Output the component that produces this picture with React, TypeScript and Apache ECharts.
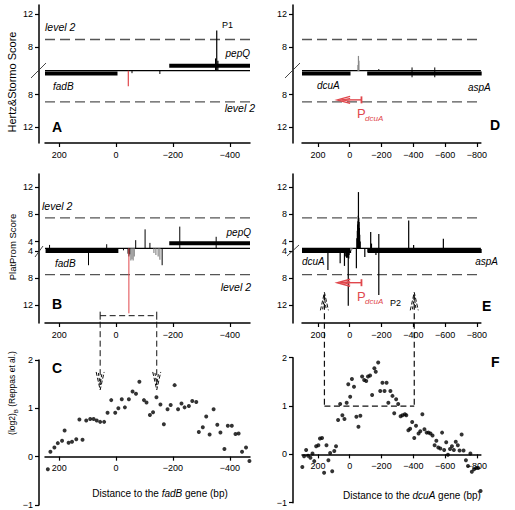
import React, { useEffect, useRef } from 'react';
import * as echarts from 'echarts';

const FONT = '"Liberation Sans", Arial, Helvetica, sans-serif';
const RED = '#e0474c';
const GRAY = '#8a8a8a';

// ---------- axis ticks ----------
const xTicksFadB = [200, 0, -200, -400];
const xTicksDcuA = [200, 0, -200, -400, -600, -800];
const hsTicks = [12, 8];
const ppTicks = [12, 8, 4];
const logTicks = [-1, 0, 1, 2];

// score baselines (break of the axis) and level-2 thresholds
const HS_BASE = 5.1;
const PP_BASE_UP = 3.0;
const PP_BASE_DOWN = 3.6;
const hsLevel2 = 8.9;
const ppLevel2 = 7.5;

// ---------- Panel A (Hertz & Stormo, fadB region) ----------
const aUp = [[-354, 10.0], [-350, 6.6], [-358, 6.3]];
const aDown = [[-56, 5.4], [-154, 5.5]];
const aDownRed = [[-43, 7.0]];
const aGenesDown = [[250, -5]]; // fadB
const aGenesUp = [[-187, -471]]; // pepQ

// ---------- Panel D (Hertz & Stormo, dcuA region) ----------
const dUpGray = [[-55, 6.9], [-58, 6.3], [-52, 5.8]];
const dUp = [[-183, 5.3], [-392, 5.5], [-535, 5.5]];
const dDown = [[-392, 5.9], [-535, 5.9]];
const dGenesDown = [[300, -5], [-110, -830]]; // dcuA, aspA
const dPromoter = [[-74, 79]];

// ---------- Panel B (PlatProm, fadB region) ----------
const bUp = [[234, 3.5], [33, 3.6], [-69, 4.2], [-102, 5.8], [-119, 3.8], [-224, 6.2], [-352, 4.7]];
const bDown = [[97, 6.1], [-26, 3.9], [-42, 4.4], [-45, 4.8], [-48, 4.5], [-162, 6.1]];
const bDownGray = [[-52, 5.4], [-56, 5.2], [-60, 5.4], [-64, 4.8], [-133, 4.3], [-140, 4.6], [-148, 4.8], [-154, 5.3]];
const bDownRed = [[-45, 13.2]];
const bGenesDown = [[248, -8]];
const bGenesUp = [[-187, -471]];

// ---------- Panel E (PlatProm, dcuA region) ----------
const eUp = [[-45, 4.5], [-48, 5.6], [-50, 6.5], [-52, 7.0], [-54, 7.8], [-55, 11.3], [-57, 7.5], [-59, 6.9], [-61, 6.0], [-63, 5.0], [-66, 4.0], [-132, 5.4], [-137, 3.7], [-183, 5.1], [-371, 7.1], [-402, 3.5], [-589, 4.4]];
const eDown = [[137, 6.8], [60, 5.8], [33, 6.2], [28, 4.8], [20, 5.0], [15, 5.0], [12, 4.9], [9, 12.1], [6, 5.1], [4, 4.6], [-42, 6.55], [-95, 4.9], [-115, 4.2], [-165, 4.6], [-183, 10.5]];
const eDownGray = [[-5, 3.9], [-10, 4.0], [-15, 3.8]];
const eGenesDown = [[300, -9], [-113, -830]];
const ePromoter = [[-74, 79]];

// ---------- Panel C (fadB, log2 ratio) ----------
const cDist = [240, 231, 217, 205, 190, 181, 167, 155, 140, 129, 118, 105, 91, 79, 68, 56, 42, 30, 17, 3, -8, -20, -31, -45, -58, -70, -82, -98, -107, -119, -130, -142, -156, -168, -181, -192, -206, -218, -230, -241, -256, -268, -282, -291, -305, -317, -329, -343, -356, -367, -381, -393, -407, -420, -431, -443, -457, -469];
const cVal = [-0.26, 0.10, 0.19, 0.28, 0.33, 0.54, 0.29, 0.31, 0.36, 0.77, 0.35, 0.75, 0.78, 0.78, 0.75, 0.72, 0.72, 0.91, 1.17, 0.91, 1.0, 1.19, 1.02, 1.19, 1.35, 1.30, 1.55, 1.17, 1.12, 0.86, 0.92, 1.23, 1.08, 0.67, 0.98, 1.07, 1.48, 0.98, 1.10, 1.02, 1.05, 1.15, 1.13, 0.51, 0.61, 0.83, 0.46, 0.98, 0.66, 0.50, 0.16, 0.64, 0.64, 0.47, 0.48, 0.10, 0.19, -0.09];

// ---------- Panel F (dcuA, log2 ratio) ----------
const fDist = [298, 287, 274, 262, 247, 234, 223, 211, 197, 187, 174, 161, 146, 134, 123, 110, 97, 86, 73, 60, 46, 33, 19, 9, -3, -14, -27, -42, -55, -67, -78, -91, -104, -115, -128, -141, -155, -164, -179, -192, -206, -219, -232, -243, -256, -269, -280, -292, -305, -320, -332, -347, -356, -369, -380, -393, -406, -417, -433, -444, -457, -470, -484, -496, -508, -521, -534, -545, -557, -570, -581, -594, -607, -618, -631, -643, -655, -667, -680, -691, -704, -716, -731, -744, -759, -768, -782, -795, -808, -823];
const fVal = [-0.26, -0.04, 0.09, -0.03, -0.07, 0.02, -0.14, 0.17, 0.19, 0.33, 0.34, -0.38, 0.19, -0.12, 0.03, -0.35, 0.07, 0.17, 0.71, 1.04, 0.81, 0.73, 1.07, 1.45, 1.19, 1.56, 1.40, 0.78, 0.57, 0.80, 1.61, 1.54, 1.52, 1.61, 1.63, 1.23, 1.78, 1.71, 1.90, 1.31, 1.48, 1.31, 1.48, 1.07, 1.31, 1.21, 0.85, 1.14, 1.04, 0.79, 0.81, 0.83, 0.81, 0.50, 0.53, 0.67, 0.34, 0.59, 0.43, 0.48, 0.83, 0.52, 0.45, 0.45, 0.43, 0.39, 0.19, 0.28, 0.14, 0.12, 0.45, 0.09, 0.25, -0.01, 0.11, 0.17, 0.09, 0.26, 0.19, 0.08, 0.41, 0.08, -0.12, -0.24, 0.02, -0.36, -0.31, -0.28, -0.28, -0.76];

// ---------- connectors between panels ----------
const fadBWindow = [56, -143];
const dcuAWindow = [159, -406];
const bracketScore = 13.55; // lower strand, panel B
const cArrowTip = 1.38;
const eArrowTip = 10.1; // lower strand, panel E
const fBoxLevel = 1.0;

// ranges
const X_FADB = [-471, 250];
const X_DCUA = [-825, 300];
const Y_HS = [-8.8, 8.0];
const Y_PP = [-11.03, 10.97];
const Y_LOG = [-1, 2];

const minusFmt = (v: number) => (v < 0 ? '\u2212' + Math.abs(v) : String(v));
const hsFmt = (v: number) => String(Math.round(Math.abs(v) + HS_BASE));
const ppFmt = (v: number) => String(Math.round(v >= 0 ? v + PP_BASE_UP : -v + PP_BASE_DOWN));

const axisText = { color: '#000', fontSize: 9, fontFamily: FONT };

// offset (px) that lifts the x axis of the log2 panels up to y = 0
const LOG_X_OFFSET = -145 / 3;

function xAxisCfg(g: number, range: number[], ticks: number[], offset: number) {
  return {
    type: 'value', gridIndex: g, min: range[0], max: range[1], inverse: true, position: 'bottom', offset,
    axisLine: { show: true, onZero: false, lineStyle: { color: '#000', width: 1.5 } },
    axisTick: { show: true, length: 4, customValues: ticks, lineStyle: { color: '#000', width: 1.2 } },
    axisLabel: { ...axisText, customValues: ticks, formatter: minusFmt, margin: 7 },
    splitLine: { show: false },
  };
}
function yAxisCfg(g: number, range: number[], ticks: number[], fmt: any, offset: number) {
  return {
    type: 'value', gridIndex: g, min: range[0], max: range[1], offset, position: 'left',
    axisLine: { show: true, onZero: false, lineStyle: { color: '#000', width: 1.5 } },
    axisTick: { show: true, length: 4, customValues: ticks, lineStyle: { color: '#000', width: 1.2 } },
    axisLabel: { ...axisText, customValues: ticks, formatter: fmt, margin: 6 },
    splitLine: { show: false },
  };
}

function spikes(g: number, arr: number[][], sign: number, base: number, color: string, w = 1) {
  return {
    type: 'custom', xAxisIndex: g, yAxisIndex: g, silent: true, z: 5,
    data: arr.map(([p, s]) => [p, sign * (s - base)]),
    renderItem: (_p: any, api: any) => {
      const a = api.coord([api.value(0), 0]);
      const b = api.coord([api.value(0), api.value(1)]);
      return { type: 'line', shape: { x1: a[0], y1: a[1], x2: b[0], y2: b[1] }, style: { stroke: color, lineWidth: w } };
    },
  };
}
function genes(g: number, arr: number[][], up: boolean) {
  return {
    type: 'custom', xAxisIndex: g, yAxisIndex: g, silent: true, z: 4,
    data: arr.map(([a, b]) => [a, 0, b]),
    renderItem: (_p: any, api: any) => {
      const p1 = api.coord([api.value(0), 0]);
      const p2 = api.coord([api.value(2), 0]);
      const y = up ? p1[1] - 7 : p1[1] + 0.8;
      return { type: 'rect', shape: { x: Math.min(p1[0], p2[0]), y, width: Math.abs(p2[0] - p1[0]), height: 4 }, style: { fill: '#000' } };
    },
  };
}
function promoter(g: number, arr: number[][], t: number) {
  return {
    type: 'custom', xAxisIndex: g, yAxisIndex: g, silent: true, z: 6,
    data: arr.map(([a, b]) => [a, t, b]),
    renderItem: (_p: any, api: any) => {
      const a = api.coord([api.value(0), api.value(1)]);
      const b = api.coord([api.value(2), api.value(1)]);
      const st = { stroke: RED, lineWidth: 1.4, fill: 'none' };
      return {
        type: 'group', children: [
          { type: 'line', shape: { x1: a[0], y1: a[1], x2: b[0] + 3, y2: b[1] }, style: st },
          { type: 'line', shape: { x1: a[0], y1: a[1] - 3.5, x2: a[0], y2: a[1] + 3.5 }, style: { ...st, lineWidth: 1.8 } },
          { type: 'polyline', shape: { points: [[b[0] + 13, b[1] - 3.5], [b[0], b[1]], [b[0] + 13, b[1] + 3.5]] }, style: st },
          { type: 'polyline', shape: { points: [[b[0] + 13, b[1] - 1.5], [b[0] + 5, b[1]], [b[0] + 13, b[1] + 1.5]] }, style: { ...st, lineWidth: 1 } },
        ],
      };
    },
  };
}
function hline(g: number, range: number[], t: number, color: string, width: number, type: any) {
  return {
    type: 'line', xAxisIndex: g, yAxisIndex: g, data: [[range[1], t], [range[0], t]], symbol: 'none',
    silent: true, z: 2, lineStyle: { color, width, type },
  };
}
function dots(g: number, xs: number[], ys: number[]) {
  return {
    type: 'scatter', xAxisIndex: g, yAxisIndex: g, symbol: 'circle', symbolSize: 4, silent: true,
    itemStyle: { color: '#000' }, data: xs.map((x, i) => [x, ys[i]]),
  };
}

const DASH = [10, 5];

function buildOption() {
  const hsT = [...hsTicks.map((s) => s - HS_BASE), ...hsTicks.map((s) => -(s - HS_BASE))];
  const ppT = [...ppTicks.map((s) => s - PP_BASE_UP), ...ppTicks.map((s) => -(s - PP_BASE_DOWN))];
  return {
    animation: false,
    backgroundColor: '#fff',
    grid: [
      { left: 45, top: 5, width: 205, height: 138 },
      { left: 45, top: 174, width: 205, height: 149 },
      { left: 45, top: 360, width: 205, height: 145 },
      { left: 302, top: 5, width: 205, height: 138 },
      { left: 302, top: 174, width: 205, height: 149 },
      { left: 302, top: 357.7, width: 205, height: 145 },
    ],
    xAxis: [
      xAxisCfg(0, X_FADB, xTicksFadB, 0),
      xAxisCfg(1, X_FADB, xTicksFadB, 0),
      xAxisCfg(2, X_FADB, xTicksFadB, LOG_X_OFFSET),
      xAxisCfg(3, X_DCUA, xTicksDcuA, 0),
      xAxisCfg(4, X_DCUA, xTicksDcuA, 0),
      xAxisCfg(5, X_DCUA, xTicksDcuA, LOG_X_OFFSET),
    ],
    yAxis: [
      yAxisCfg(0, Y_HS, hsT, hsFmt, 6),
      yAxisCfg(1, Y_PP, ppT, ppFmt, 6),
      yAxisCfg(2, Y_LOG, logTicks, minusFmt, 6),
      yAxisCfg(3, Y_HS, hsT, hsFmt, 9),
      yAxisCfg(4, Y_PP, ppT, ppFmt, 9),
      yAxisCfg(5, Y_LOG, logTicks, minusFmt, 9),
    ],
    series: [
      // A
      hline(0, X_FADB, 0, '#000', 1.2, 'solid'),
      hline(0, X_FADB, hsLevel2 - HS_BASE, '#555', 1.3, DASH),
      hline(0, X_FADB, -(hsLevel2 - HS_BASE), '#555', 1.3, DASH),
      genes(0, aGenesDown, false), genes(0, aGenesUp, true),
      spikes(0, aUp, 1, HS_BASE, '#000', 1.2),
      spikes(0, aDown, -1, HS_BASE, '#000', 1),
      spikes(0, aDownRed, -1, HS_BASE, RED, 1.2),
      // B
      hline(1, X_FADB, 0, '#000', 1.2, 'solid'),
      hline(1, X_FADB, ppLevel2 - PP_BASE_UP, '#555', 1.3, DASH),
      hline(1, X_FADB, -(ppLevel2 - PP_BASE_DOWN), '#555', 1.3, DASH),
      genes(1, bGenesDown, false), genes(1, bGenesUp, true),
      spikes(1, bUp, 1, PP_BASE_UP, '#000', 1),
      spikes(1, bDownGray, -1, PP_BASE_DOWN, GRAY, 1.2),
      spikes(1, bDown, -1, PP_BASE_DOWN, '#000', 1),
      spikes(1, bDownRed, -1, PP_BASE_DOWN, RED, 1),
      // C
      dots(2, cDist, cVal),
      // D
      hline(3, X_DCUA, 0, '#000', 1.2, 'solid'),
      hline(3, X_DCUA, hsLevel2 - HS_BASE, '#555', 1.3, DASH),
      hline(3, X_DCUA, -(hsLevel2 - HS_BASE), '#555', 1.3, DASH),
      genes(3, dGenesDown, false),
      spikes(3, dUpGray, 1, HS_BASE, GRAY, 1.2),
      spikes(3, dUp, 1, HS_BASE, '#000', 1),
      spikes(3, dDown, -1, HS_BASE, '#000', 1),
      promoter(3, dPromoter, -3.55),
      // E
      hline(4, X_DCUA, 0, '#000', 1.2, 'solid'),
      hline(4, X_DCUA, ppLevel2 - PP_BASE_UP, '#555', 1.3, DASH),
      hline(4, X_DCUA, -(ppLevel2 - PP_BASE_DOWN), '#555', 1.3, DASH),
      genes(4, eGenesDown, false),
      spikes(4, eUp, 1, PP_BASE_UP, '#000', 1.2),
      spikes(4, eDownGray, -1, PP_BASE_DOWN, GRAY, 1),
      spikes(4, eDown, -1, PP_BASE_DOWN, '#000', 1.2),
      promoter(4, ePromoter, -5.08),
      // F
      dots(5, fDist, fVal),
    ],
  };
}

function buildGraphics(chart: any) {
  const px = (g: number, v: number[]) => chart.convertToPixel({ gridIndex: g }, v) as number[];
  const els: any[] = [];
  const T = (x: number, y: number, text: string, o: any = {}) =>
    els.push({
      type: 'text', x, y, rotation: o.rot || 0, silent: true, z: 100,
      style: {
        text, fill: o.color || '#000', fontSize: o.size || 10, fontFamily: FONT,
        fontStyle: o.italic ? 'italic' : 'normal', fontWeight: o.bold ? 'bold' : 'normal',
        align: o.align || 'left', verticalAlign: 'middle', textAlign: o.align || 'left', textVerticalAlign: 'middle',
        rich: o.rich,
      },
    });
  const L = (x1: number, y1: number, x2: number, y2: number, dash?: number[], w = 1, color = '#111') =>
    els.push({ type: 'line', silent: true, z: 90, shape: { x1, y1, x2, y2 }, style: { stroke: color, lineWidth: w, lineDash: dash } });
  const P = (pts: number[][], dash?: number[], w = 1) =>
    els.push({ type: 'polyline', silent: true, z: 90, shape: { points: pts }, style: { stroke: '#111', lineWidth: w, fill: 'none', lineDash: dash } });

  // Panel A texts
  T(45, 27, 'level 2', { italic: true, size: 10.5 });
  T(255, 108, 'level 2', { italic: true, size: 10.5, align: 'right' });
  T(222, 25, 'P1', { size: 9 });
  T(250, 53, 'pepQ', { italic: true, align: 'right' });
  T(53, 86, 'fadB', { italic: true });
  T(52, 127, 'A', { bold: true, size: 14 });
  // Panel D
  T(317, 85, 'dcuA', { italic: true });
  T(468, 87, 'aspA', { italic: true });
  T(357, 113, 'P', { color: RED, size: 13 });
  T(365, 118, 'dcuA', { color: RED, size: 8, italic: true });
  T(490, 125, 'D', { bold: true, size: 14 });
  // Panel B
  T(42, 206, 'level 2', { italic: true, size: 10.5 });
  T(251, 287, 'level 2', { italic: true, size: 10.5, align: 'right' });
  T(251, 232, 'pepQ', { italic: true, align: 'right' });
  T(55, 263, 'fadB', { italic: true });
  T(52, 304, 'B', { bold: true, size: 14 });
  // Panel E
  T(302, 261, 'dcuA', { italic: true });
  T(498, 261, 'aspA', { italic: true, align: 'right' });
  T(357, 296, 'P', { color: RED, size: 13 });
  T(365, 301, 'dcuA', { color: RED, size: 8, italic: true });
  T(390, 303, 'P2', { size: 9 });
  T(482, 306, 'E', { bold: true, size: 14 });
  // Panels C, F
  T(52, 368, 'C', { bold: true, size: 14 });
  T(491, 362, 'F', { bold: true, size: 14 });

  // axis titles
  T(12, 82, 'Hertz&Stormo Score', { rot: Math.PI / 2, align: 'center', size: 11 });
  T(12, 247, 'PlatProm Score', { rot: Math.PI / 2, align: 'center', size: 9.5 });
  T(12, 393, '{a|(log2)}{b|B}{a| (Reppas et al.)}', {
    rot: Math.PI / 2, align: 'center', size: 8.5,
    rich: { a: { fontSize: 8.5, fontFamily: FONT, lineHeight: 14, verticalAlign: 'middle' }, b: { fontSize: 6, fontFamily: FONT, lineHeight: 14, verticalAlign: 'bottom' } },
  });
  T(160, 493, '{a|Distance to the }{i|fadB}{a| gene (bp)}', {
    align: 'center', rich: { a: { fontSize: 10, fontFamily: FONT }, i: { fontSize: 10, fontFamily: FONT, fontStyle: 'italic' } },
  });
  T(412, 495, '{a|Distance to the }{i|dcuA}{a| gene (bp)}', {
    align: 'center', rich: { a: { fontSize: 10, fontFamily: FONT }, i: { fontSize: 10, fontFamily: FONT, fontStyle: 'italic' } },
  });

  // axis break marks
  L(31, 78, 46, 63, undefined, 0.9, '#333');
  L(285, 78, 300, 63, undefined, 0.9, '#333');
  L(35, 257, 43, 246, undefined, 0.9, '#333');
  L(287, 256, 299, 245, undefined, 0.9, '#333');

  // B -> C connector
  const CD = [6, 3.5];
  const tB = -(bracketScore - PP_BASE_DOWN);
  const bL = px(1, [fadBWindow[0], tB]);
  const bR = px(1, [fadBWindow[1], tB]);
  L(bL[0], bL[1], bR[0], bR[1], CD);
  fadBWindow.forEach((v) => {
    const top = px(1, [v, tB]);
    const tip = px(2, [v, cArrowTip]);
    L(top[0], top[1] - 4, top[0], top[1] + 4, undefined, 1);
    L(top[0], top[1] + 6, top[0], tip[1] - 2, CD);
    P([[top[0] - 4, tip[1] - 18], [top[0], tip[1]], [top[0] + 4, tip[1] - 18]], [4, 2]);
    P([[top[0] - 1.8, tip[1] - 17], [top[0], tip[1] - 5], [top[0] + 1.8, tip[1] - 17]], [3, 2]);
  });

  // E -> F connector
  const tE = -(eArrowTip - PP_BASE_DOWN);
  const fL = px(5, [dcuAWindow[0], fBoxLevel]);
  const fR = px(5, [dcuAWindow[1], fBoxLevel]);
  L(fL[0], fL[1], fR[0], fR[1], CD, 1.2);
  dcuAWindow.forEach((v) => {
    const tip = px(4, [v, tE]);
    const box = px(5, [v, fBoxLevel]);
    L(tip[0], tip[1] + 2, box[0], box[1], CD, 1.2);
    P([[tip[0] - 4, tip[1] + 18], [tip[0], tip[1]], [tip[0] + 4, tip[1] + 18]], [4, 2]);
    P([[tip[0] - 1.8, tip[1] + 17], [tip[0], tip[1] + 5], [tip[0] + 1.8, tip[1] + 17]], [3, 2]);
  });
  return els;
}

export default function App() {
  const ref = useRef<HTMLDivElement>(null);
  useEffect(() => {
    document.body.style.margin = '0';
    const chart = echarts.init(ref.current!, null, { renderer: 'svg' });
    chart.setOption(buildOption() as any);
    chart.setOption({ graphic: buildGraphics(chart) } as any);
    return () => chart.dispose();
  }, []);
  return <div ref={ref} style={{ width: 515, height: 510, background: '#fff' }} />;
}
